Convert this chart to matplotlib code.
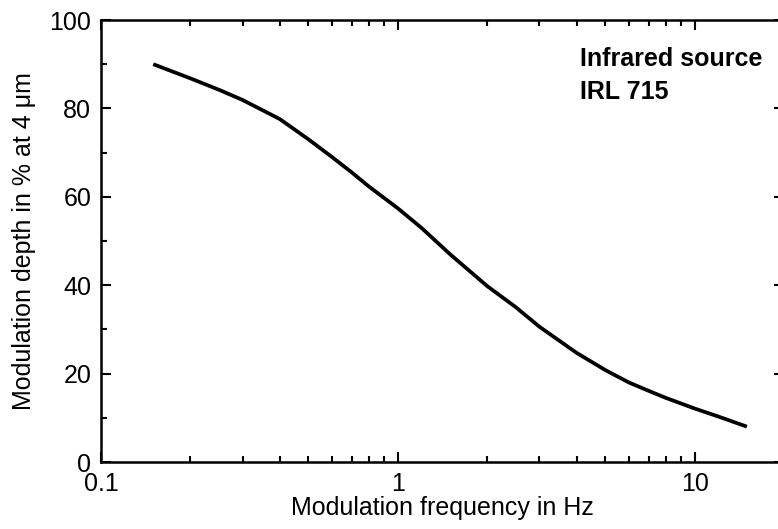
import numpy as np
import matplotlib as mpl
mpl.use('Agg')
import matplotlib.pyplot as plt
from matplotlib.ticker import LogLocator, MultipleLocator, FixedLocator, FixedFormatter, NullFormatter

# modulation depth
freq = [0.15, 0.2, 0.25, 0.3, 0.4, 0.5, 0.6, 0.7, 0.8, 1.0, 1.2, 1.5,
        2.0, 2.5, 3.0, 4.0, 5.0, 6.0, 7.0, 8.0, 10.0, 12.0, 15.0]
depth = [90.0, 86.8, 84.2, 81.9, 77.6, 73.0, 69.0, 65.5, 62.3, 57.4, 53.0, 47.0,
         39.8, 35.0, 30.6, 24.7, 20.8, 18.0, 16.1, 14.5, 12.1, 10.3, 8.0]

xtick_vals = [0.1, 1, 10]
xtick_labels = ['0.1', '1', '10']

plt.rcParams['font.family'] = ['Liberation Sans', 'DejaVu Sans']

fig = plt.figure(figsize=(7.78, 5.29), dpi=100)
W, H = 778, 529
# axes run a little past the right edge, like the source image
ax = fig.add_axes([101 / W, (H - 462) / H, 683 / W, 442 / H])

ax.plot(freq, depth, color='black', lw=2.7, solid_capstyle='butt',
        solid_joinstyle='round')

ax.set_xscale('log')
ax.set_xlim(0.1, 20)
ax.set_ylim(0, 100)

ax.xaxis.set_major_locator(FixedLocator(xtick_vals))
ax.xaxis.set_major_formatter(FixedFormatter(xtick_labels))
ax.xaxis.set_minor_locator(LogLocator(base=10, subs=np.arange(2, 10)))
ax.xaxis.set_minor_formatter(NullFormatter())
ax.yaxis.set_major_locator(MultipleLocator(20))
ax.yaxis.set_minor_locator(MultipleLocator(10))

ax.tick_params(which='both', direction='in', top=True, right=True,
               width=1.5, labelsize=18)
ax.tick_params(which='major', length=7.5)
ax.tick_params(which='minor', length=4)
ax.tick_params(axis='x', which='major', pad=7)
ax.tick_params(axis='y', which='major', pad=7)
for s in ax.spines.values():
    s.set_linewidth(1.8)

ax.set_xlabel('Modulation frequency in Hz', fontsize=18, labelpad=0)
ax.set_ylabel('Modulation depth in % at 4 \u03bcm', fontsize=18, labelpad=10)

ax.text(0.701, 0.896, 'Infrared source', transform=ax.transAxes,
        fontsize=18, fontweight='bold', va='baseline', ha='left')
ax.text(0.701, 0.821, 'IRL 715', transform=ax.transAxes,
        fontsize=18, fontweight='bold', va='baseline', ha='left')

fig.savefig('out.png', dpi=100)
